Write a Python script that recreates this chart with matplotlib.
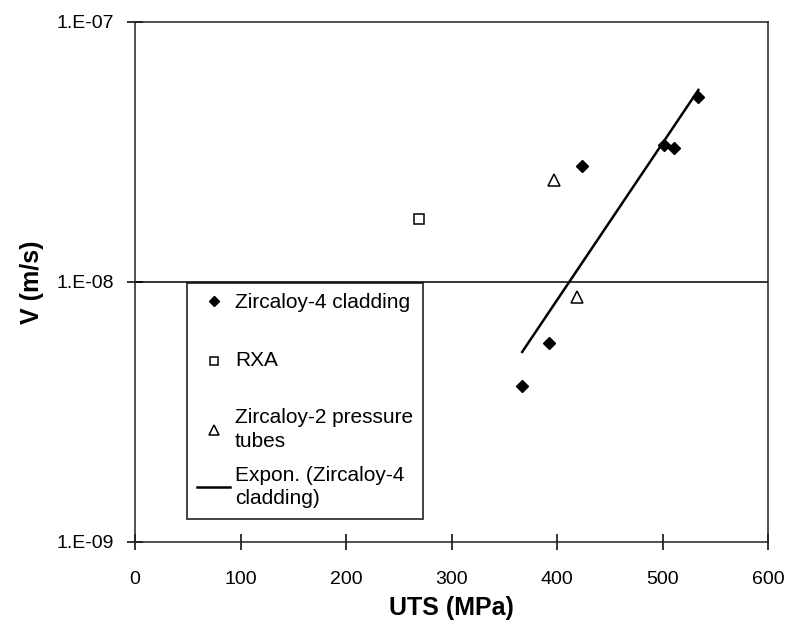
import numpy as np
import matplotlib
matplotlib.use("Agg")
import matplotlib.pyplot as plt

plt.rcParams['font.family'] = ['Liberation Sans', 'DejaVu Sans']

# Data
zr4_uts = [367, 392, 424, 501, 511, 534]
zr4_v = [3.98e-9, 5.83e-9, 2.79e-8, 3.37e-8, 3.28e-8, 5.15e-8]
rxa_uts = [269]
rxa_v = [1.75e-8]
zr2_uts = [397, 419]
zr2_v = [2.47e-8, 8.75e-9]

xticks = [0, 100, 200, 300, 400, 500, 600]
yticks = [1e-9, 1e-8, 1e-7]
ytick_labels = ["1.E-09", "1.E-08", "1.E-07"]

fig = plt.figure(figsize=(7.85, 6.25), dpi=100)
ax = fig.add_axes([135/785, 1-542/625, 633/785, 520/625])
ax.set_yscale('log')
ax.set_xlim(0, 600)
ax.set_ylim(1e-9, 1e-7)

# Exponential trendline fitted to Zircaloy-4 data
coef = np.polyfit(zr4_uts, np.log(zr4_v), 1)
xf = np.linspace(min(zr4_uts), max(zr4_uts), 100)
yf = np.exp(np.polyval(coef, xf))

ax.axhline(1e-8, color='black', lw=1.1, zorder=1)

ax.plot(zr4_uts, zr4_v, linestyle='none', marker='D', ms=6.5, color='black',
        label='Zircaloy-4 cladding', zorder=3)
ax.plot(rxa_uts, rxa_v, linestyle='none', marker='s', ms=7, mfc='white', mec='black',
        mew=1.1, label=' \nRXA\n ', zorder=3)
ax.plot(zr2_uts, zr2_v, linestyle='none', marker='^', ms=8, mfc='white', mec='black',
        mew=1.1, label='Zircaloy-2 pressure\ntubes', zorder=3)
ax.plot(xf, yf, color='black', lw=1.8, label='Expon. (Zircaloy-4\ncladding)', zorder=2)

ax.set_xticks(xticks)
ax.set_yticks(yticks)
ax.set_yticklabels(ytick_labels)
ax.yaxis.set_minor_locator(matplotlib.ticker.NullLocator())
ax.tick_params(axis='both', direction='inout', length=12, width=1.1, labelsize=14, colors='black')
ax.tick_params(axis='x', pad=15)
ax.tick_params(axis='y', pad=9)
for s in ax.spines.values():
    s.set_linewidth(1.1)
    s.set_color('#222222')

ax.set_xlabel('UTS (MPa)', fontsize=18, fontweight='bold', labelpad=6)
ax.set_ylabel('V (m/s)', fontsize=18, fontweight='bold', labelpad=9)

leg = ax.legend(loc='upper left', bbox_to_anchor=(52/633, 259/520), frameon=True,
                fancybox=False, edgecolor='black', fontsize=15, labelspacing=0.72,
                handlelength=1.55, handletextpad=0.25, borderpad=0.5, borderaxespad=0,
                markerscale=0.85)
leg.get_frame().set_linewidth(1.3)
for t in leg.get_texts():
    t.set_linespacing(1.3)

fig.savefig('out.png', dpi=100, facecolor='white')
